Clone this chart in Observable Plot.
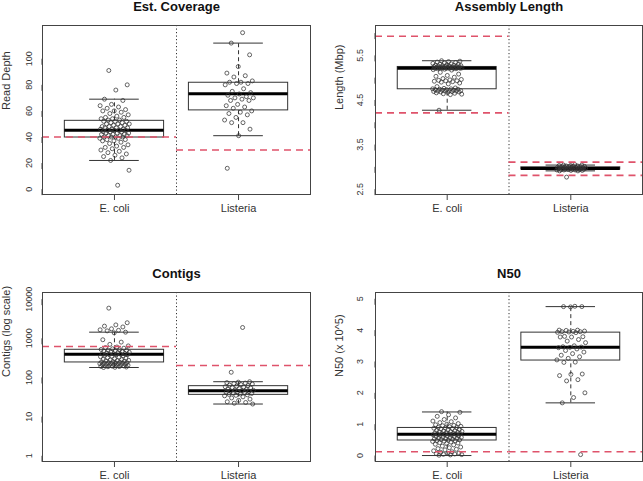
<!DOCTYPE html>
<html><head><meta charset="utf-8">
<script src="https://cdn.jsdelivr.net/npm/d3@7"></script>
<script src="https://cdn.jsdelivr.net/npm/@observablehq/plot@0.6"></script>
<style>
body{margin:0;background:#fff;width:643px;height:481px;overflow:hidden;position:relative;font-family:"Liberation Sans",Arial,sans-serif}
.panel{position:absolute}
</style></head><body>
<div id="p1" class="panel" style="left:0;top:0"></div>
<div id="p2" class="panel" style="left:320px;top:0"></div>
<div id="p3" class="panel" style="left:0;top:240px"></div>
<div id="p4" class="panel" style="left:320px;top:240px"></div>
<script>
const groups = ["E. coli", "Listeria"];

// Est. Coverage (read depth)
const coverageEcoli = [91, 80, 76, 69, 68, 65, 64, 63, 62, 61, 60, 60, 59, 58, 57, 56, 55, 55, 54, 54, 53, 53, 52, 52, 52, 51, 51, 50, 50, 50, 49, 49, 48, 48, 48, 47, 47, 47, 46, 46, 46, 45, 45, 45, 45, 44, 44, 44, 43, 43, 43, 42, 42, 42, 41, 41, 41, 40, 40, 40, 40, 39, 39, 38, 38, 37, 37, 36, 35, 34, 33, 32, 32, 31, 30, 29, 28, 27, 26, 25, 24, 22, 14.5, 3];
const coverageListeria = [120, 112, 103, 94, 89, 87, 86, 83, 82, 82, 81, 81, 80, 77, 75, 74, 73, 72, 71, 70, 70, 69, 68, 68, 65, 64, 63, 62, 60, 59, 58, 57, 55, 53, 51, 51, 46, 41, 16];
const coverageBoxEcoli = [22, 39.6, 45.2, 52.4, 69];
const coverageBoxListeria = [41, 60.4, 73.2, 81.6, 112];
const coverageCutEcoli = [40];
const coverageCutListeria = [30];
const coverageTicks = [0, 20, 40, 60, 80, 100];

// Assembly Length (Mbp)
const lengthEcoli = [5.38, 5.37, 5.36, 5.35, 5.34, 5.33, 5.32, 5.31, 5.30, 5.30, 5.29, 5.28, 5.28, 5.27, 5.27, 5.26, 5.26, 5.25, 5.25, 5.25, 5.24, 5.24, 5.24, 5.23, 5.23, 5.23, 5.23, 5.22, 5.22, 5.22, 5.22, 5.21, 5.21, 5.21, 5.21, 5.21, 5.21, 5.20, 5.20, 5.19, 5.18, 5.17,
  5.12, 5.08, 5.05, 5.03, 5.01, 4.98, 4.96, 4.95, 4.94, 4.93, 4.93, 4.92, 4.91, 4.90, 4.88, 4.86, 4.80, 4.77, 4.76, 4.75, 4.75,
  4.74, 4.74, 4.73, 4.73, 4.72, 4.72, 4.71, 4.71, 4.70, 4.70, 4.70, 4.69, 4.69, 4.68, 4.68, 4.67, 4.66, 4.65, 4.64, 4.63, 4.62, 4.27];
const lengthListeria = [3.05, 3.04, 3.04, 3.03, 3.03, 3.02, 3.02, 3.01, 3.01, 3.00, 3.00, 3.00, 2.99, 2.99, 2.99, 2.98, 2.98, 2.98, 2.97, 2.97, 2.97, 2.97, 2.96, 2.96, 2.96, 2.96, 2.95, 2.95, 2.95, 2.95, 2.94, 2.94, 2.94, 2.93, 2.93, 2.93, 2.92, 2.92, 2.91, 2.91, 2.77];
const lengthBoxEcoli = [4.27, 4.74, 5.21, 5.24, 5.38];
const lengthBoxListeria = [2.91, 2.94, 2.965, 2.99, 3.04];
const lengthCutEcoli = [4.21, 5.93];
const lengthCutListeria = [2.81, 3.105];
const lengthTicks = [2.5, 3, 3.5, 4, 4.5, 5, 5.5, 6];
const lengthTickLabels = ["2.5", "", "3.5", "", "4.5", "", "5.5", ""];

// Contigs (log scale)
const contigsEcoli = [5900, 2500, 2200, 2050, 1950, 1750, 1650, 1600, 1550, 1436, 1380, 920, 800, 700, 640, 600, 580, 560, 540, 520, 510, 500, 490, 480, 470, 460, 450, 440, 430, 420, 410, 405, 400, 395, 390, 385, 380, 370, 360, 350, 340, 330, 320, 310, 300, 290, 285, 280, 275, 270, 265, 260, 255, 250, 245, 240, 238, 235, 232, 230, 228, 225, 222, 220, 218, 215, 212, 210, 208, 205, 203, 200, 198, 195, 192, 190, 188, 185, 182, 180];
const contigsListeria = [1890, 136, 78, 76, 74, 72, 70, 68, 66, 64, 62, 60, 58, 57, 55, 54, 52, 50, 49, 48, 47, 46, 45, 44, 43, 42, 41, 40, 39, 38, 37, 36, 35, 34, 32, 30, 28, 26, 24, 23, 22, 21];
const contigsBoxEcoli = [180, 242, 394, 510, 1436];
const contigsBoxListeria = [21, 36, 46, 60, 78];
const contigsCutEcoli = [620];
const contigsCutListeria = [202];
const contigsTicks = [1, 10, 100, 1000, 10000];

// N50 (x 10^5)
const n50Ecoli = [1.40, 1.38, 1.30, 1.25, 1.20, 1.15, 1.10, 1.08, 1.05, 1.02, 1.00, 0.98, 0.96, 0.95, 0.93, 0.92, 0.90, 0.89, 0.88, 0.87, 0.86, 0.85, 0.83, 0.82, 0.80, 0.79, 0.78, 0.77, 0.76, 0.75, 0.74, 0.73, 0.72, 0.71, 0.70, 0.70, 0.69, 0.68, 0.68, 0.67, 0.66, 0.65, 0.64, 0.63, 0.62, 0.61, 0.60, 0.59, 0.58, 0.57, 0.56, 0.55, 0.54, 0.53, 0.52, 0.51, 0.50, 0.49, 0.48, 0.47, 0.46, 0.45, 0.43, 0.41, 0.40, 0.38, 0.36, 0.34, 0.30, 0.27, 0.25, 0.22, 0.20, 0.18, 0.15, 0.12, 0.10, 0.08, 0.07, 0.06, 0.05, 0.04, 0.03, 0.02, 0.01];
const n50Listeria = [4.76, 4.75, 4.75, 4.74, 4.00, 4.00, 3.99, 3.97, 3.96, 3.95, 3.95, 3.94, 3.93, 3.92, 3.80, 3.79, 3.78, 3.78, 3.70, 3.65, 3.60, 3.50, 3.47, 3.46, 3.45, 3.44, 3.40, 3.35, 3.30, 3.25, 3.20, 3.15, 3.10, 3.05, 2.98, 2.97, 2.60, 2.59, 2.55, 2.42, 2.38, 2.00, 1.85, 1.68, 0.03];
const n50BoxEcoli = [0.0, 0.48, 0.68, 0.88, 1.39];
const n50BoxListeria = [1.68, 3.03, 3.45, 3.92, 4.75];
const n50CutEcoli = [0.12];
const n50CutListeria = [0.12];
const n50Ticks = [0, 1, 2, 3, 4, 5];

// ---- helpers ----
const XD = [0.42, 2.58];
const jit = i => (((i * 0.6180339887 + 0.31) % 1) - 0.5) * 0.24;
const boxRows = (a, b) => [a, b].map((s, i) => ({x: i + 1, lo: s[0], q1: s[1], med: s[2], q3: s[3], hi: s[4]}));
const dotRows = (a, b) => [...a.map((v, i) => ({x: 1 + jit(i), v})), ...b.map((v, i) => ({x: 2 + jit(i + 7), v}))];
const cutRows = (a, b) => [...a.map(v => ({g: 0, v})), ...b.map(v => ({g: 1, v}))];

function panel(id, o) {
  const ink = "#333";
  const chart = Plot.plot({
    width: o.width, height: o.height,
    marginTop: o.mt, marginBottom: o.mb, marginLeft: o.ml, marginRight: o.mr,
    style: {fontFamily: "'Liberation Sans', Arial, sans-serif", background: "white", overflow: "visible"},
    x: {domain: XD, axis: null},
    y: {type: o.type || "linear", domain: o.domain, axis: null},
    marks: [
      Plot.ruleX(o.boxes, {x: "x", y1: "q3", y2: "hi", stroke: ink, strokeDasharray: "4,3"}),
      Plot.ruleX(o.boxes, {x: "x", y1: "lo", y2: "q1", stroke: ink, strokeDasharray: "4,3"}),
      Plot.ruleY(o.boxes, {y: "hi", x1: d => d.x - 0.2, x2: d => d.x + 0.2, stroke: ink}),
      Plot.ruleY(o.boxes, {y: "lo", x1: d => d.x - 0.2, x2: d => d.x + 0.2, stroke: ink}),
      Plot.rect(o.boxes, {x1: d => d.x - 0.4, x2: d => d.x + 0.4, y1: "q1", y2: "q3", fill: "none", stroke: ink}),
      Plot.ruleY(o.boxes, {y: "med", x1: d => d.x - 0.4, x2: d => d.x + 0.4, stroke: "#000", strokeWidth: 3}),
      Plot.dot(o.dots, {x: "x", y: "v", r: 2, stroke: "#333", strokeWidth: 0.75, fill: "none"}),
      Plot.ruleX([1.5], {stroke: "#333", strokeDasharray: "1.2,2.3"}),
      Plot.ruleY(o.cuts, {y: "v", x1: d => d.g === 0 ? XD[0] : 1.5, x2: d => d.g === 0 ? 1.5 : XD[1], stroke: "#DF536B", strokeWidth: 1.6, strokeDasharray: "7,5"}),
      Plot.frame({stroke: "#444"}),
      Plot.axisY(o.ticks, {tickSize: 6, tickPadding: o.tickPad, fontSize: 9, rotate: -90, textAnchor: "middle", lineAnchor: "middle", tickFormat: o.tickFormat, label: null, stroke: "#444", color: "#333"}),
      Plot.axisX([1, 2], {tickSize: 6, tickPadding: 4, fontSize: 11, tickFormat: d => groups[d - 1], label: null, stroke: "#444", color: "#333"}),
      Plot.text([o.title], {frameAnchor: "top", dy: -14.3, lineAnchor: "bottom", fontSize: 13, fontWeight: "bold", fill: "#111"}),
      Plot.text([o.ylabel], {frameAnchor: "left", dx: -36.5, rotate: -90, fontSize: 11, fill: "#333"})
    ]
  });
  document.getElementById(id).appendChild(chart);
}

panel("p1", {title: "Est. Coverage", ylabel: "Read Depth", domain: [-4.1, 125.5], ticks: coverageTicks, tickFormat: d => String(d),
  boxes: boxRows(coverageBoxEcoli, coverageBoxListeria), dots: dotRows(coverageEcoli, coverageListeria), cuts: cutRows(coverageCutEcoli, coverageCutListeria),
  width: 321, height: 240, mt: 25, mb: 46, ml: 42, mr: 11, tickPad: 7.5});

panel("p2", {title: "Assembly Length", ylabel: "Length (Mbp)", domain: [2.38, 6.17], ticks: lengthTicks, tickFormat: (d, i) => lengthTickLabels[lengthTicks.indexOf(d)],
  boxes: boxRows(lengthBoxEcoli, lengthBoxListeria), dots: dotRows(lengthEcoli, lengthListeria), cuts: cutRows(lengthCutEcoli, lengthCutListeria),
  width: 323, height: 240, mt: 25, mb: 46, ml: 55, mr: 1, tickPad: 9});

panel("p3", {title: "Contigs", ylabel: "Contigs (log scale)", type: "log", domain: [0.715, 14800], ticks: contigsTicks, tickFormat: d => String(d),
  boxes: boxRows(contigsBoxEcoli, contigsBoxListeria), dots: dotRows(contigsEcoli, contigsListeria), cuts: cutRows(contigsCutEcoli, contigsCutListeria),
  width: 321, height: 241, mt: 52, mb: 20, ml: 42, mr: 11, tickPad: 7.5});

panel("p4", {title: "N50", ylabel: "N50 (x 10^5)", domain: [-0.19, 5.2], ticks: n50Ticks, tickFormat: d => String(d),
  boxes: boxRows(n50BoxEcoli, n50BoxListeria), dots: dotRows(n50Ecoli, n50Listeria), cuts: cutRows(n50CutEcoli, n50CutListeria),
  width: 323, height: 241, mt: 52, mb: 20, ml: 55, mr: 1, tickPad: 9});
</script>
</body></html>
